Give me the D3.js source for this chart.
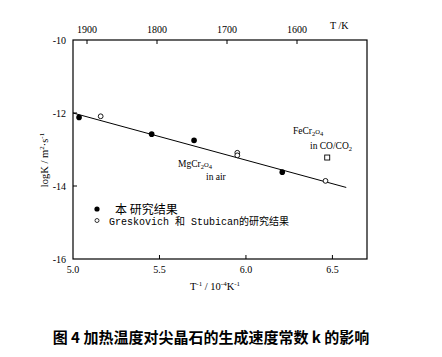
<!DOCTYPE html>
<html><head><meta charset="utf-8">
<script src="https://cdn.jsdelivr.net/npm/d3@7"></script>
<style>body{margin:0;background:#fff}svg{display:block}</style>
</head><body>
<svg id="c" width="442" height="357"></svg>
<script>
// Data
const ownX = [5.035, 5.455, 5.70, 6.21];
const ownY = [-12.12, -12.58, -12.75, -13.62];
const gsX = [5.16, 5.95, 5.95, 6.46];
const gsY = [-12.09, -13.09, -13.16, -13.86];
const feX = [6.47];
const feY = [-13.22];
const fitX = [5.0, 6.58];
const fitY = [-12.0, -14.04];
const xTicks = [5.0, 5.5, 6.0, 6.5];
const yTicks = [-10, -12, -14, -16];
const tTicks = [1900, 1800, 1700, 1600];

const svg = d3.select("#c");
const L = 73, R = 367, T = 40, B = 259;
const x = d3.scaleLinear().domain([5.0, 6.7]).range([L, R]);
const y = d3.scaleLinear().domain([-16, -10]).range([B, T]);
const xt = d3.scaleLinear().domain([1920, 1500]).range([L, R]);
const serif = "'Liberation Serif','Times New Roman',serif";

svg.append("rect").attr("x", L).attr("y", T).attr("width", R - L).attr("height", B - T)
  .attr("fill", "none").attr("stroke", "#000").attr("stroke-width", 1.2);

const tk = 4;
xTicks.forEach(v => {
  if (v > 5.0) svg.append("line").attr("x1", x(v)).attr("x2", x(v)).attr("y1", B).attr("y2", B - tk).attr("stroke", "#000");
  svg.append("text").attr("x", x(v)).attr("y", 273).attr("text-anchor", "middle")
    .attr("font-family", serif).attr("font-size", 10).text(v.toFixed(1));
});
yTicks.forEach(v => {
  if (v > -16 && v < -10) svg.append("line").attr("x1", L).attr("x2", L + tk).attr("y1", y(v)).attr("y2", y(v)).attr("stroke", "#000");
  svg.append("text").attr("x", 66).attr("y", y(v) + 3.5).attr("text-anchor", "end")
    .attr("font-family", serif).attr("font-size", 10).text(String(v));
});
tTicks.forEach(v => {
  svg.append("line").attr("x1", xt(v)).attr("x2", xt(v)).attr("y1", T).attr("y2", T + tk).attr("stroke", "#000");
  svg.append("text").attr("x", xt(v)).attr("y", 33).attr("text-anchor", "middle")
    .attr("font-family", serif).attr("font-size", 10).text(String(v));
});
svg.append("text").attr("x", 330).attr("y", 29).attr("font-family", serif).attr("font-size", 10).text("T /K");

svg.append("line").attr("x1", x(fitX[0])).attr("y1", y(fitY[0])).attr("x2", x(fitX[1])).attr("y2", y(fitY[1]))
  .attr("stroke", "#000").attr("stroke-width", 1);

ownX.forEach((v, i) => svg.append("circle").attr("cx", x(v)).attr("cy", y(ownY[i])).attr("r", 2.8).attr("fill", "#000"));
gsX.forEach((v, i) => svg.append("circle").attr("cx", x(v)).attr("cy", y(gsY[i])).attr("r", 2.4).attr("fill", "#fff").attr("stroke", "#000").attr("stroke-width", 0.9));
feX.forEach((v, i) => svg.append("rect").attr("x", x(v) - 2.5).attr("y", y(feY[i]) - 2.5).attr("width", 5).attr("height", 5).attr("fill", "#fff").attr("stroke", "#000").attr("stroke-width", 0.9));

function chem(xx, yy, parts) {
  const tx = svg.append("text").attr("x", xx).attr("y", yy).attr("font-family", serif).attr("font-size", 9.5);
  parts.forEach(p => {
    const s = tx.append("tspan").text(p[0]);
    if (p[1]) s.attr("font-size", 6.5).attr("dy", p[1]);
  });
}
chem(178, 167, [["MgCr"], ["2", 2], ["O", -2], ["4", 2]]);
svg.append("text").attr("x", 206).attr("y", 180).attr("font-family", serif).attr("font-size", 9.5).text("in air");
chem(293, 134, [["FeCr"], ["2", 2], ["O", -2], ["4", 2]]);
const co = svg.append("text").attr("x", 310).attr("y", 149).attr("font-family", serif).attr("font-size", 9.5);
co.append("tspan").text("in CO/CO");
co.append("tspan").text("2").attr("font-size", 6.5).attr("dy", 2);

svg.append("circle").attr("cx", 97).attr("cy", 209).attr("r", 2.6).attr("fill", "#000");
svg.append("text").attr("x", 115).attr("y", 213.5).attr("font-family", "'Noto Sans CJK SC',sans-serif").attr("font-size", 12).text("本 研究结果");
svg.append("circle").attr("cx", 97).attr("cy", 220.5).attr("r", 2).attr("fill", "#fff").attr("stroke", "#000").attr("stroke-width", 0.8);
svg.append("text").attr("x", 109).attr("y", 225).attr("font-family", "'Liberation Mono','Noto Sans CJK SC',monospace").attr("font-size", 10).text("Greskovich 和 Stubican的研究结果");

const yl = svg.append("text").attr("transform", "translate(48,160) rotate(-90)").attr("text-anchor", "middle")
  .attr("font-family", serif).attr("font-size", 10.5);
yl.append("tspan").text("logK / m");
yl.append("tspan").text("2").attr("font-size", 7).attr("dy", -4);
yl.append("tspan").text("·s").attr("dy", 4);
yl.append("tspan").text("-1").attr("font-size", 7).attr("dy", -4);

const xl = svg.append("text").attr("x", 215).attr("y", 290).attr("text-anchor", "middle")
  .attr("font-family", serif).attr("font-size", 10.5);
xl.append("tspan").text("T");
xl.append("tspan").text("-1").attr("font-size", 7).attr("dy", -4);
xl.append("tspan").text(" / 10").attr("dy", 4);
xl.append("tspan").text("-4").attr("font-size", 7).attr("dy", -4);
xl.append("tspan").text("K").attr("dy", 4);
xl.append("tspan").text("-1").attr("font-size", 7).attr("dy", -4);

svg.append("text").attr("x", 211).attr("y", 343).attr("text-anchor", "middle")
  .attr("font-family", "'Noto Sans CJK SC',sans-serif").attr("font-weight", "bold").attr("font-size", 15)
  .text("图 4  加热温度对尖晶石的生成速度常数 k 的影响");
</script>
</body></html>
